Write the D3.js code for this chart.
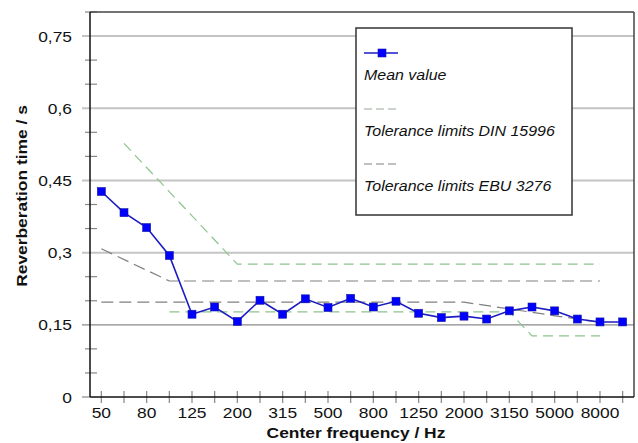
<!DOCTYPE html>
<html>
<head>
<meta charset="utf-8">
<script src="https://cdn.jsdelivr.net/npm/d3@7"></script>
<style>
  html, body { margin: 0; padding: 0; background: #fff; }
  svg { display: block; font-family: Arial, "Liberation Sans", sans-serif; }
</style>
</head>
<body>
<svg id="chart" width="638" height="443"></svg>
<script>
// ---- data ----
const categories = ["50","63","80","100","125","160","200","250","315","400","500","630","800","1000","1250","1600","2000","2500","3150","4000","5000","6300","8000","10000"];
const meanValues = [0.427,0.383,0.352,0.294,0.172,0.187,0.157,0.201,0.172,0.204,0.186,0.205,0.187,0.199,0.174,0.165,0.168,0.162,0.179,0.187,0.179,0.162,0.156,0.156];

const dinUpperCats = ["63","200","8000"];
const dinUpperValues = [0.527,0.276,0.276];
const dinLowerCats = ["100","3150","4000","8000"];
const dinLowerValues = [0.177,0.177,0.127,0.127];

const ebuUpperCats = ["50","100","8000"];
const ebuUpperValues = [0.308,0.241,0.241];
const ebuLowerCats = ["50","2000","8000"];
const ebuLowerValues = [0.197,0.197,0.155];

const yMajorTicks = [0, 0.15, 0.3, 0.45, 0.6, 0.75];
const yTickLabels = ["0","0,15","0,3","0,45","0,6","0,75"];
const yMinorTicks = [0.05,0.1,0.2,0.25,0.35,0.4,0.5,0.55,0.65,0.7,0.8];
const xLabelCats = ["50","80","125","200","315","500","800","1250","2000","3150","5000","8000"];

const legendLabels = ["Mean value","Tolerance limits DIN 15996","Tolerance limits EBU 3276"];

// ---- layout ----
const svg = d3.select("#chart");
const L = 90, R = 634, T = 12, B = 397;
const SX = 1.16; // horizontal text stretch seen in the reference

const x = d3.scalePoint().domain(categories).range([L, R]).padding(0.5);
const y = d3.scaleLinear().domain([0, 0.8]).range([B, T]);

// gridlines
svg.append("g").selectAll("line").data(yMajorTicks.filter(d => d > 0)).join("line")
  .attr("x1", 82).attr("x2", R)
  .attr("y1", d => y(d)).attr("y2", d => y(d))
  .attr("stroke", d => d === 0.15 ? "#8a8a8a" : "#c4c4c4")
  .attr("stroke-width", d => d === 0.15 ? 1.2 : 2);

// minor y ticks
svg.append("g").selectAll("line").data(yMinorTicks).join("line")
  .attr("x1", 85).attr("x2", 97)
  .attr("y1", d => y(d)).attr("y2", d => y(d))
  .attr("stroke", "#888").attr("stroke-width", 1.2);
svg.append("line").attr("x1", 82).attr("x2", L).attr("y1", y(0)).attr("y2", y(0))
  .attr("stroke", "#888").attr("stroke-width", 1.2);

// x ticks
svg.append("g").selectAll("line").data(categories).join("line")
  .attr("x1", d => x(d)).attr("x2", d => x(d))
  .attr("y1", B - 6).attr("y2", B + 6)
  .attr("stroke", "#888").attr("stroke-width", 1.2);

// frame
svg.append("line").attr("x1", L).attr("x2", R).attr("y1", T).attr("y2", T).attr("stroke", "#444").attr("stroke-width", 1.5);
svg.append("line").attr("x1", R).attr("x2", R).attr("y1", T).attr("y2", B).attr("stroke", "#444").attr("stroke-width", 1.5);
svg.append("line").attr("x1", L).attr("x2", R).attr("y1", B).attr("y2", B).attr("stroke", "#111").attr("stroke-width", 1.5);
svg.append("line").attr("x1", L).attr("x2", L).attr("y1", T).attr("y2", B).attr("stroke", "#111").attr("stroke-width", 1.5);

// y tick labels
svg.append("g").selectAll("text").data(yMajorTicks).join("text")
  .attr("transform", d => `translate(72,${y(d) + 5.5}) scale(${SX},1)`)
  .attr("text-anchor", "end").attr("font-size", 15).attr("fill", "#111")
  .text((d, i) => yTickLabels[i]);

// x tick labels
svg.append("g").selectAll("text").data(xLabelCats).join("text")
  .attr("transform", d => `translate(${x(d)},418) scale(${SX},1)`)
  .attr("text-anchor", "middle").attr("font-size", 15).attr("fill", "#111")
  .text(d => d);

// axis titles
svg.append("text").attr("transform", `translate(356,438) scale(${SX},1)`).attr("text-anchor", "middle")
  .attr("font-size", 15).attr("font-weight", "bold").attr("fill", "#111")
  .text("Center frequency / Hz");
svg.append("text").attr("transform", `translate(27,196) rotate(-90) scale(${SX},1)`).attr("text-anchor", "middle")
  .attr("font-size", 15).attr("font-weight", "bold").attr("fill", "#111")
  .text("Reverberation time / s");

// tolerance lines
const line = d3.line().x(d => x(d[0])).y(d => y(d[1]));
const dinColor = "#8cc48c", ebuColor = "#808080";
function drawLimit(cats, vals, color, dash) {
  svg.append("path").datum(cats.map((c, i) => [c, vals[i]]))
    .attr("d", line).attr("fill", "none")
    .attr("stroke", color).attr("stroke-width", 1.2).attr("stroke-dasharray", dash);
}
drawLimit(ebuUpperCats, ebuUpperValues, ebuColor, "12,6");
drawLimit(ebuLowerCats, ebuLowerValues, ebuColor, "12,6");
drawLimit(dinUpperCats, dinUpperValues, dinColor, "10,6");
drawLimit(dinLowerCats, dinLowerValues, dinColor, "10,6");

// mean line
const meanData = categories.map((c, i) => [c, meanValues[i]]);
svg.append("path").datum(meanData).attr("d", line).attr("fill", "none")
  .attr("stroke", "#1c1cc0").attr("stroke-width", 1.6);
svg.append("g").selectAll("rect").data(meanData).join("rect")
  .attr("x", d => x(d[0]) - 4).attr("y", d => y(d[1]) - 4)
  .attr("width", 8).attr("height", 8)
  .attr("fill", "#0000ff").attr("stroke", "#1a1aa0").attr("stroke-width", 0.6);

// legend
const lg = svg.append("g");
lg.append("rect").attr("x", 356).attr("y", 28).attr("width", 216).attr("height", 187)
  .attr("fill", "#fff").attr("stroke", "#333").attr("stroke-width", 1.5);
const rows = [53, 109, 164];
lg.append("line").attr("x1", 364).attr("x2", 398).attr("y1", rows[0]).attr("y2", rows[0])
  .attr("stroke", "#1c1cc0").attr("stroke-width", 1.6);
lg.append("rect").attr("x", 378).attr("y", rows[0] - 4).attr("width", 8).attr("height", 8)
  .attr("fill", "#0000ff").attr("stroke", "#1a1aa0").attr("stroke-width", 0.6);
lg.append("line").attr("x1", 364).attr("x2", 398).attr("y1", rows[1]).attr("y2", rows[1])
  .attr("stroke", "#9aa89a").attr("stroke-width", 1.2).attr("stroke-dasharray", "8,4");
lg.append("line").attr("x1", 364).attr("x2", 398).attr("y1", rows[2]).attr("y2", rows[2])
  .attr("stroke", ebuColor).attr("stroke-width", 1.2).attr("stroke-dasharray", "8,4");
lg.selectAll("text.lt").data(legendLabels).join("text")
  .attr("class", "lt")
  .attr("transform", (d, i) => `translate(364,${rows[i] + 27}) scale(1.1,1)`)
  .attr("font-size", 14.5).attr("font-style", "italic").attr("fill", "#111")
  .text(d => d);
</script>
</body>
</html>
